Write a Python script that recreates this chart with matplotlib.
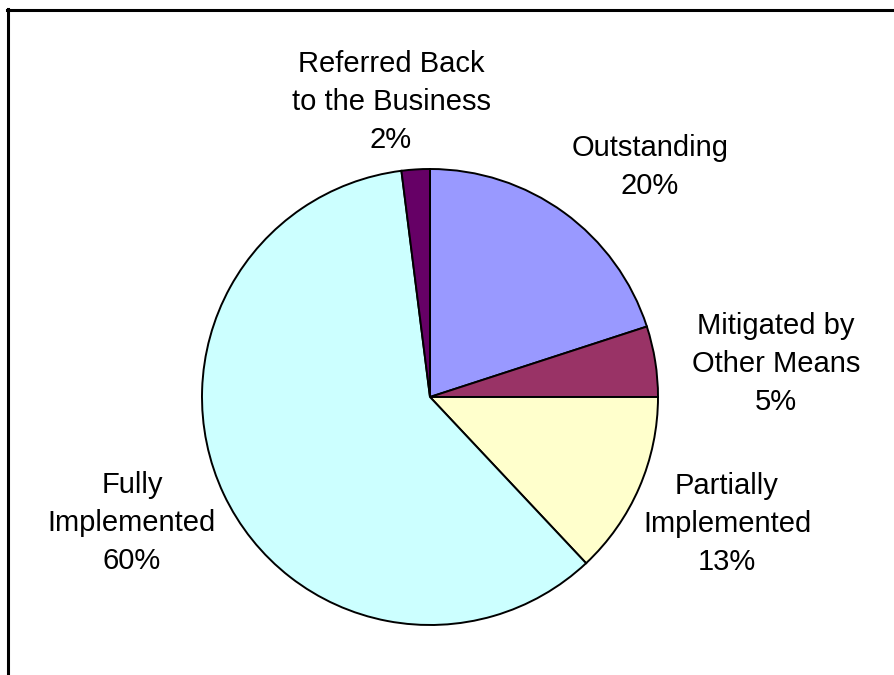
#!/usr/bin/env python3

"""
pie chart of recommendation status
"""

import matplotlib as mpl
import matplotlib.pyplot as plt
from matplotlib.lines import Line2D

# data
labels = ["Outstanding", "Mitigated by\nOther Means", "Partially\nImplemented",
          "Fully\nImplemented", "Referred Back\nto the Business"]
values = [20, 5, 13, 60, 2]
colors = ["#9999FF", "#993366", "#FFFFCC", "#CCFFFF", "#660066"]

# label centres in pixels (layout only)
label_px = [(650, 167), (776, 364), (727, 524), (132, 523), (391, 102)]

W, H = 895, 675
cx, cy, r = 430, 397, 228


def main():
    mpl.rcParams['font.family'] = ['Liberation Sans', 'DejaVu Sans']

    fig = plt.figure(figsize=(W / 100, H / 100), dpi=100)
    ax = fig.add_axes([0, 0, 1, 1])

    ax.pie(values, colors=colors, startangle=90, counterclock=False,
           radius=1, center=(0, 0), frame=True,
           wedgeprops=dict(edgecolor="black", linewidth=1.4))
    ax.set_xlim(-cx / r, (W - cx) / r)
    ax.set_ylim(-(H - cy) / r, cy / r)
    ax.set_aspect("auto")
    ax.axis("off")

    total = sum(values)
    for lab, v, (px, py) in zip(labels, values, label_px):
        txt = f"{lab}\n{round(100 * v / total)}%"
        ax.text((px - cx) / r, (cy - py) / r, txt, ha="center", va="center",
                fontsize=21, linespacing=1.45, multialignment="center")

    # frame: top and left only
    fig.add_artist(Line2D([7 / W, 1], [1 - 10 / H, 1 - 10 / H], color="black",
                          linewidth=2.2, transform=fig.transFigure))
    fig.add_artist(Line2D([8 / W, 8 / W], [0, 1 - 9 / H], color="black",
                          linewidth=2.2, transform=fig.transFigure))

    plt.savefig("out.png", dpi=100)


if __name__ == "__main__":
    main()
